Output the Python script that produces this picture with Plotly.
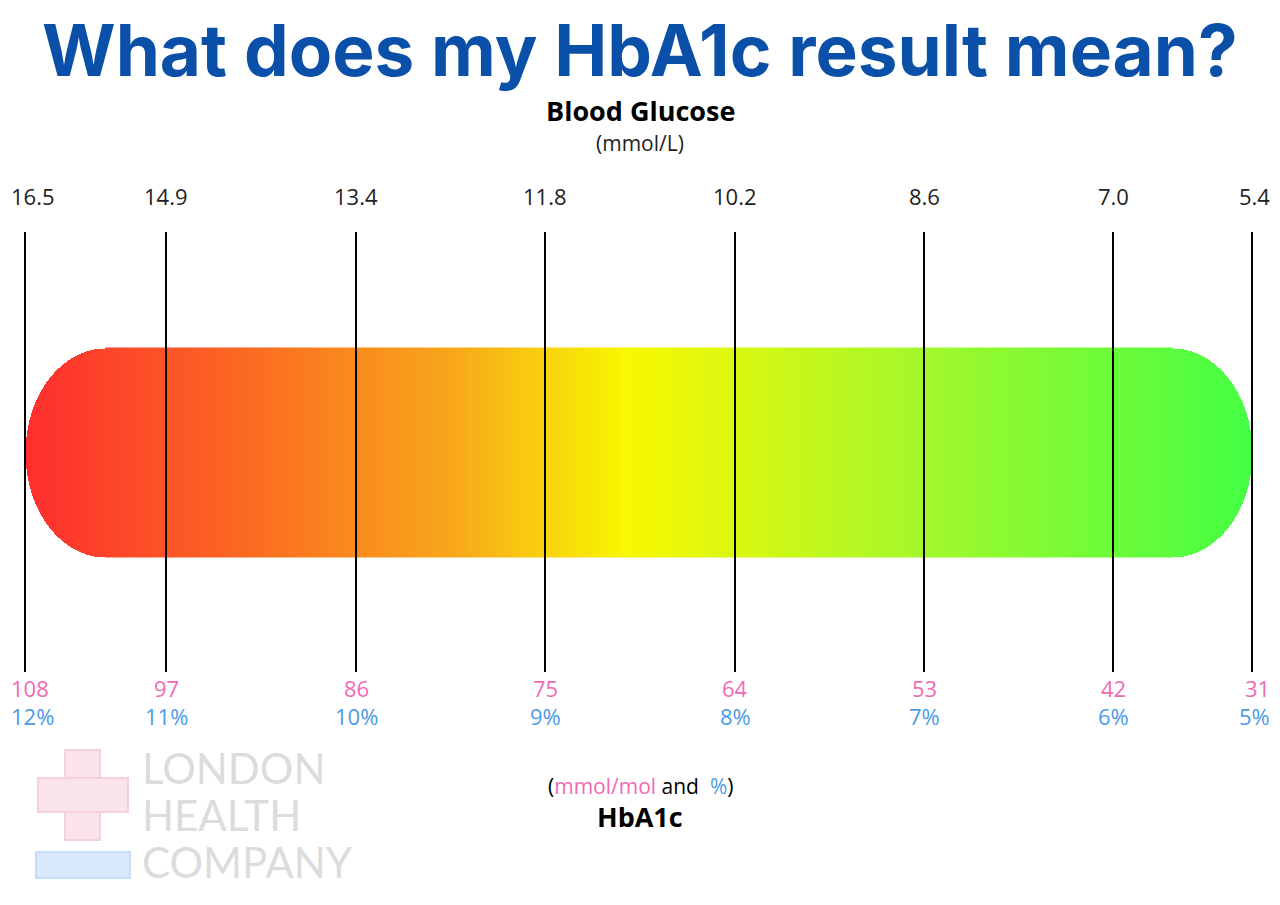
import numpy as np
import plotly.graph_objects as go

glucose = ["16.5", "14.9", "13.4", "11.8", "10.2", "8.6", "7.0", "5.4"]
mmol_mol = ["108", "97", "86", "75", "64", "53", "42", "31"]
percent = ["12%", "11%", "10%", "9%", "8%", "7%", "6%", "5%"]
x_pos = [25, 166, 356, 545, 735, 924, 1113, 1252]

fig = go.Figure()

# gradient bar
x0, x1, y0, y1 = 25, 1252, 348, 557
rx, cy, ry = 80, (y0 + y1) / 2, (y1 - y0) / 2
xs = np.arange(x0, x1 + 1, 1.0)
ys = np.arange(y0, y1 + 1, 1.0)
X, Y = np.meshgrid(xs, ys)
Z = (X - x0) / (x1 - x0)
lc, rc = x0 + rx, x1 - rx
mask = np.zeros_like(Z, dtype=bool)
mask |= (X < lc) & (((X - lc) / rx) ** 2 + ((Y - cy) / ry) ** 2 > 1)
mask |= (X > rc) & (((X - rc) / rx) ** 2 + ((Y - cy) / ry) ** 2 > 1)
Z[mask] = np.nan
fig.add_trace(go.Heatmap(x=xs, y=ys, z=Z, showscale=False, hoverinfo="skip",
                         zmin=0, zmax=1,
                         colorscale=[[0, "#ff2e2e"], [0.18, "#fb6a22"], [0.35, "#f8a81a"],
                                     [0.49, "#f8f800"], [0.72, "#a6f82a"], [1, "#44ff44"]]))

for i, x in enumerate(x_pos):
    fig.add_shape(type="line", x0=x, x1=x, y0=232, y1=672, line=dict(color="black", width=2))
    if i == 0:
        ax, anc = 9, "left"
    elif i == len(x_pos) - 1:
        ax, anc = 1272, "right"
    else:
        ax, anc = x, "center"
    fig.add_annotation(x=ax, y=196, text=glucose[i], showarrow=False, xanchor=anc,
                       font=dict(size=22, color="#222", family="Open Sans"))
    fig.add_annotation(x=ax, y=688, text=mmol_mol[i], showarrow=False, xanchor=anc,
                       font=dict(size=22, color="#f06ab4", family="Open Sans"))
    fig.add_annotation(x=ax, y=716, text=percent[i], showarrow=False, xanchor=anc,
                       font=dict(size=22, color="#4a9be8", family="Open Sans"))

def txt(x, y, t, size, color="black", family="Open Sans", xanchor="center"):
    fig.add_annotation(x=x, y=y, text=t, showarrow=False, xanchor=xanchor,
                       font=dict(size=size, color=color, family=family))

txt(640, 50, "<b>What does my HbA1c result mean?</b>", 71, "#0a4fa8", "Inter")
txt(640, 110, "<b>Blood Glucose</b>", 27)
txt(640, 143, "(mmol/L)", 21, "#222")
txt(640, 786, "(<span style='color:#f06ab4'>mmol/mol</span> and  <span style='color:#4a9be8'>%</span>)", 21)
txt(640, 816, "<b>HbA1c</b>", 27)

# faint logo
for y, t in [(768, "LONDON"), (815, "HEALTH"), (862, "COMPANY")]:
    txt(140, y, t, 42, "#dcdcdc", "Lato", "left")
fig.add_shape(type="rect", x0=65, x1=100, y0=750, y1=840, fillcolor="#fbe3ec",
              line=dict(color="#f7d0df", width=2), layer="below")
fig.add_shape(type="rect", x0=38, x1=128, y0=778, y1=812, fillcolor="#fbe3ec",
              line=dict(color="#f7d0df", width=2), layer="below")
fig.add_shape(type="rect", x0=36, x1=130, y0=852, y1=878, fillcolor="#d9e8fb",
              line=dict(color="#c6dcf7", width=2), layer="below")

fig.update_xaxes(range=[8, 1288], visible=False, fixedrange=True)
fig.update_yaxes(range=[913, 8], visible=False, fixedrange=True)
fig.update_layout(width=1280, height=905, margin=dict(l=0, r=0, t=0, b=0),
                  plot_bgcolor="white", paper_bgcolor="white", showlegend=False)
fig.write_html("out.html")
